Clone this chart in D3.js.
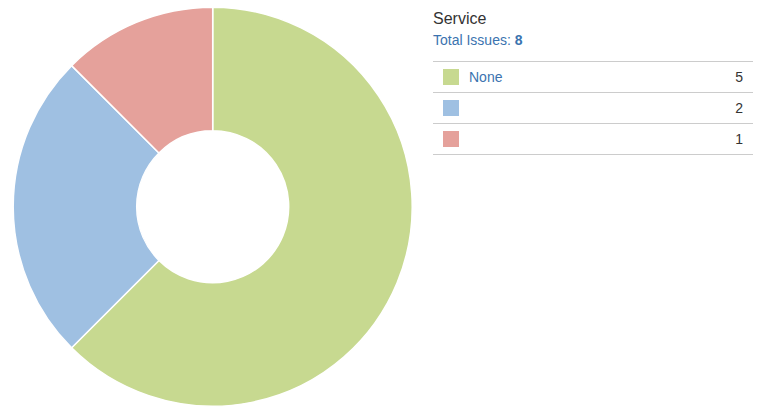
<!DOCTYPE html>
<html>
<head>
<meta charset="utf-8">
<script src="https://cdn.jsdelivr.net/npm/d3@7"></script>
<style>
    body { margin: 0; background: #fff; font-family: Arial, "Liberation Sans", sans-serif; }
</style>
</head>
<body>
<div id="chart"></div>
<script>
// data
const title = "Service";
const categories = ["None", "", ""];
const counts = [5, 2, 1];
const colors = ["#c7d990", "#9fc0e2", "#e5a19b"];

const width = 766, height = 416;
const svg = d3.select("#chart").append("svg")
    .attr("width", width)
    .attr("height", height);

// donut
const cx = 212.7, cy = 206.7;
const outerR = 199.5, innerR = 76;

const pie = d3.pie().sort(null).value(d => d.value);
const arc = d3.arc().innerRadius(innerR).outerRadius(outerR);

const slices = categories.map((c, i) => ({ name: c, value: counts[i], color: colors[i] }));

svg.append("g")
    .attr("transform", `translate(${cx},${cy})`)
    .selectAll("path")
    .data(pie(slices))
    .enter().append("path")
    .attr("d", arc)
    .attr("fill", d => d.data.color)
    .attr("stroke", "#fff")
    .attr("stroke-width", 1.5)
    .attr("stroke-linejoin", "round");

// legend
const lx = 433, lw = 320;
const legend = svg.append("g");

legend.append("text")
    .attr("x", lx)
    .attr("y", 23.5)
    .attr("font-size", 16)
    .attr("fill", "#333")
    .text(title);

const total = legend.append("text")
    .attr("x", lx)
    .attr("y", 45)
    .attr("font-size", 14)
    .attr("fill", "#3b73af");
total.append("tspan").text("Total Issues: ");
total.append("tspan").attr("font-weight", "bold").text(d3.sum(counts));

const rowY = d3.scaleLinear().domain([0, 1]).range([61.5, 92.5]);

legend.selectAll(".sep")
    .data(d3.range(slices.length + 1))
    .enter().append("line")
    .attr("class", "sep")
    .attr("x1", lx)
    .attr("x2", lx + lw)
    .attr("y1", d => rowY(d))
    .attr("y2", d => rowY(d))
    .attr("stroke", "#ccc")
    .attr("stroke-width", 1);

const rows = legend.selectAll(".row")
    .data(slices)
    .enter().append("g")
    .attr("class", "row")
    .attr("transform", (d, i) => `translate(0,${rowY(i)})`);

rows.append("rect")
    .attr("x", 443)
    .attr("y", 7.5)
    .attr("width", 16)
    .attr("height", 16)
    .attr("fill", d => d.color);

rows.append("text")
    .attr("x", 469)
    .attr("y", 20.8)
    .attr("font-size", 14)
    .attr("fill", "#3b73af")
    .text(d => d.name);

rows.append("text")
    .attr("x", 743)
    .attr("y", 20.8)
    .attr("font-size", 14)
    .attr("text-anchor", "end")
    .attr("fill", "#333")
    .text(d => d.value);
</script>
</body>
</html>
